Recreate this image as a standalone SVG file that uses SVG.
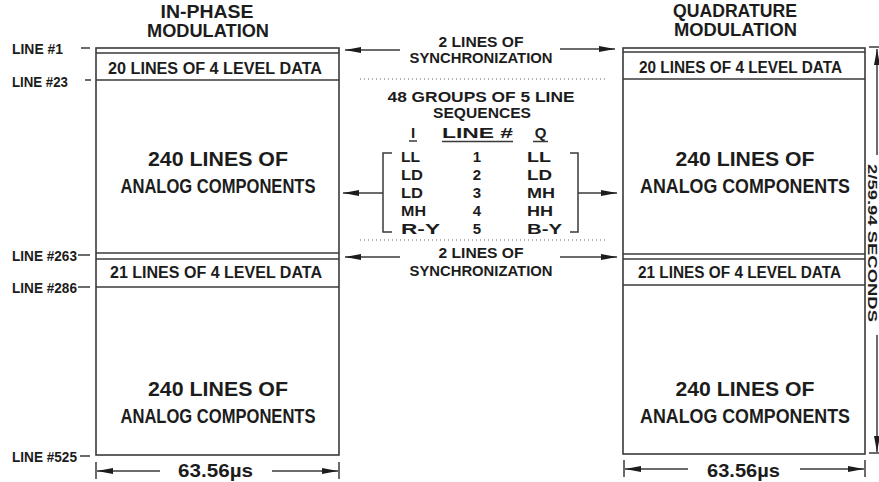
<svg xmlns="http://www.w3.org/2000/svg" width="879" height="482" viewBox="0 0 879 482">
<style>
.t{font-family:"Liberation Sans",Arial,sans-serif;font-weight:bold;fill:#1c1c1c}
.box{fill:#fff;stroke:#3a3a3a;stroke-width:1.6}
.ln{stroke:#3a3a3a;stroke-width:1.5;fill:none}
.dot{stroke:#666;stroke-width:1.2;stroke-dasharray:1 3;fill:none}
.ttl{font-size:18px}
.big{font-size:20px}
.row{font-size:16px}
.lbl{font-size:15px}
.mid{font-size:15px}
.dim{font-size:19px}
.vt{font-size:13px}
</style>
<defs>
<marker id="ah" markerWidth="16" markerHeight="8" refX="16" refY="4" orient="auto" markerUnits="userSpaceOnUse"><path d="M0,1 L16,4 L0,7 Z" fill="#1c1c1c"/></marker>
</defs>
<rect width="879" height="482" fill="#fff"/>

<g id="left-frame">
<text class="t ttl" x="207" y="18" text-anchor="middle" textLength="93" lengthAdjust="spacingAndGlyphs">IN-PHASE</text>
<text class="t ttl" x="208" y="37" text-anchor="middle" textLength="122" lengthAdjust="spacingAndGlyphs">MODULATION</text>
<rect class="box" x="96" y="48" width="243" height="407"/>
<line class="ln" x1="96" y1="53" x2="339" y2="53"/>
<line class="ln" x1="96" y1="80" x2="339" y2="80"/>
<line class="ln" x1="96" y1="253" x2="339" y2="253"/>
<line class="ln" x1="96" y1="259" x2="339" y2="259"/>
<line class="ln" x1="96" y1="287" x2="339" y2="287"/>
<text class="t row" x="215" y="74" text-anchor="middle" textLength="214" lengthAdjust="spacingAndGlyphs">20 LINES OF 4 LEVEL DATA</text>
<text class="t big" x="218" y="166" text-anchor="middle" textLength="140" lengthAdjust="spacingAndGlyphs">240 LINES OF</text>
<text class="t big" x="218" y="193" text-anchor="middle" textLength="195" lengthAdjust="spacingAndGlyphs">ANALOG COMPONENTS</text>
<text class="t row" x="216" y="278" text-anchor="middle" textLength="212" lengthAdjust="spacingAndGlyphs">21 LINES OF 4 LEVEL DATA</text>
<text class="t big" x="218" y="396" text-anchor="middle" textLength="140" lengthAdjust="spacingAndGlyphs">240 LINES OF</text>
<text class="t big" x="218" y="423" text-anchor="middle" textLength="195" lengthAdjust="spacingAndGlyphs">ANALOG COMPONENTS</text>
<text class="t lbl" x="12" y="54" textLength="51" lengthAdjust="spacingAndGlyphs">LINE #1</text>
<line class="ln" x1="81" y1="48" x2="90" y2="48"/>
<text class="t lbl" x="12" y="87" textLength="56" lengthAdjust="spacingAndGlyphs">LINE #23</text>
<line class="ln" x1="85" y1="80" x2="91" y2="80"/>
<text class="t lbl" x="12" y="261" textLength="65" lengthAdjust="spacingAndGlyphs">LINE #263</text>
<line class="ln" x1="78" y1="255" x2="90" y2="255"/>
<text class="t lbl" x="12" y="293" textLength="65" lengthAdjust="spacingAndGlyphs">LINE #286</text>
<line class="ln" x1="78" y1="287" x2="90" y2="287"/>
<text class="t lbl" x="12" y="462" textLength="65" lengthAdjust="spacingAndGlyphs">LINE #525</text>
<line class="ln" x1="80" y1="456" x2="90" y2="456"/>
<text class="t dim" x="215.5" y="477" text-anchor="middle" textLength="75" lengthAdjust="spacingAndGlyphs">63.56µs</text>
</g>

<g id="right-frame">
<text class="t ttl" x="735" y="17" text-anchor="middle" textLength="124" lengthAdjust="spacingAndGlyphs">QUADRATURE</text>
<text class="t ttl" x="735.5" y="36" text-anchor="middle" textLength="123" lengthAdjust="spacingAndGlyphs">MODULATION</text>
<rect class="box" x="623" y="48" width="242" height="406"/>
<line class="ln" x1="623" y1="52" x2="865" y2="52"/>
<line class="ln" x1="623" y1="79" x2="865" y2="79"/>
<line class="ln" x1="623" y1="254" x2="865" y2="254"/>
<line class="ln" x1="623" y1="259" x2="865" y2="259"/>
<line class="ln" x1="623" y1="285" x2="865" y2="285"/>
<text class="t row" x="740.5" y="73" text-anchor="middle" textLength="203" lengthAdjust="spacingAndGlyphs">20 LINES OF 4 LEVEL DATA</text>
<text class="t big" x="745" y="166" text-anchor="middle" textLength="139" lengthAdjust="spacingAndGlyphs">240 LINES OF</text>
<text class="t big" x="745" y="193" text-anchor="middle" textLength="210" lengthAdjust="spacingAndGlyphs">ANALOG COMPONENTS</text>
<text class="t row" x="739.5" y="278" text-anchor="middle" textLength="203" lengthAdjust="spacingAndGlyphs">21 LINES OF 4 LEVEL DATA</text>
<text class="t big" x="745" y="396" text-anchor="middle" textLength="139" lengthAdjust="spacingAndGlyphs">240 LINES OF</text>
<text class="t big" x="745" y="423" text-anchor="middle" textLength="210" lengthAdjust="spacingAndGlyphs">ANALOG COMPONENTS</text>
<text class="t dim" x="743.5" y="477" text-anchor="middle" textLength="73" lengthAdjust="spacingAndGlyphs">63.56µs</text>
<line class="ln" x1="869" y1="47" x2="879" y2="47"/>
<line class="ln" x1="869" y1="453" x2="879" y2="453"/>
<text class="t vt" transform="translate(868,243) rotate(90)" text-anchor="middle" textLength="158" lengthAdjust="spacingAndGlyphs">2/59.94 SECONDS</text>
</g>

<g id="middle-legend">
<text class="t mid" x="481" y="47" text-anchor="middle" textLength="85" lengthAdjust="spacingAndGlyphs">2 LINES OF</text>
<text class="t mid" x="481" y="63" text-anchor="middle" textLength="143" lengthAdjust="spacingAndGlyphs">SYNCHRONIZATION</text>
<line class="dot" x1="360" y1="79" x2="605" y2="79"/>
<text class="t mid" x="481" y="102" text-anchor="middle" textLength="187" lengthAdjust="spacingAndGlyphs">48 GROUPS OF 5 LINE</text>
<text class="t mid" x="482" y="118" text-anchor="middle" textLength="98" lengthAdjust="spacingAndGlyphs">SEQUENCES</text>
<text class="t mid" x="413" y="138" text-anchor="middle">I</text>
<text class="t mid" x="477.5" y="138" text-anchor="middle" textLength="71" lengthAdjust="spacingAndGlyphs">LINE #</text>
<text class="t mid" x="540.5" y="138" text-anchor="middle">Q</text>
<line class="ln" x1="409" y1="141" x2="417" y2="141" stroke-width="1.3"/>
<line class="ln" x1="442" y1="141.5" x2="513" y2="141.5" stroke-width="1.3"/>
<line class="ln" x1="533" y1="141.5" x2="548" y2="141.5" stroke-width="1.3"/>
<g class="t mid">
<text x="401" y="162" textLength="19" lengthAdjust="spacingAndGlyphs">LL</text>
<text x="401" y="180" textLength="22" lengthAdjust="spacingAndGlyphs">LD</text>
<text x="401" y="198" textLength="22" lengthAdjust="spacingAndGlyphs">LD</text>
<text x="401" y="216" textLength="25" lengthAdjust="spacingAndGlyphs">MH</text>
<text x="401" y="234" textLength="39" lengthAdjust="spacingAndGlyphs">R-Y</text>
<text x="477" y="162" text-anchor="middle">1</text>
<text x="477" y="180" text-anchor="middle">2</text>
<text x="477" y="198" text-anchor="middle">3</text>
<text x="477" y="216" text-anchor="middle">4</text>
<text x="477" y="234" text-anchor="middle">5</text>
<text x="527" y="162" textLength="24" lengthAdjust="spacingAndGlyphs">LL</text>
<text x="527" y="180" textLength="25" lengthAdjust="spacingAndGlyphs">LD</text>
<text x="527" y="198" textLength="28" lengthAdjust="spacingAndGlyphs">MH</text>
<text x="527" y="216" textLength="26" lengthAdjust="spacingAndGlyphs">HH</text>
<text x="527" y="234" textLength="35" lengthAdjust="spacingAndGlyphs">B-Y</text>
</g>
<path class="ln" d="M392,153 H383 V232 H392"/>
<path class="ln" d="M570,153 H578 V232 H570"/>
<line class="dot" x1="360" y1="240" x2="605" y2="240"/>
<text class="t mid" x="481" y="258" text-anchor="middle" textLength="85" lengthAdjust="spacingAndGlyphs">2 LINES OF</text>
<text class="t mid" x="481" y="276" text-anchor="middle" textLength="143" lengthAdjust="spacingAndGlyphs">SYNCHRONIZATION</text>
</g>

<g id="connectors">
<line class="ln" x1="400" y1="50" x2="345" y2="50" marker-end="url(#ah)"/>
<line class="ln" x1="560" y1="49" x2="615" y2="49" marker-end="url(#ah)"/>
<line class="ln" x1="383" y1="193" x2="343" y2="193" marker-end="url(#ah)"/>
<line class="ln" x1="578" y1="193" x2="617" y2="193" marker-end="url(#ah)"/>
<line class="ln" x1="400" y1="257" x2="345" y2="257" marker-end="url(#ah)"/>
<line class="ln" x1="560" y1="257" x2="617" y2="257" marker-end="url(#ah)"/>
<line class="ln" x1="96" y1="462" x2="96" y2="479"/>
<line class="ln" x1="339" y1="462" x2="339" y2="479"/>
<line class="ln" x1="160" y1="471" x2="97" y2="471" marker-end="url(#ah)"/>
<line class="ln" x1="272" y1="471" x2="338" y2="471" marker-end="url(#ah)"/>
<line class="ln" x1="624" y1="460" x2="624" y2="477"/>
<line class="ln" x1="865" y1="460" x2="865" y2="477"/>
<line class="ln" x1="688" y1="469" x2="625" y2="469" marker-end="url(#ah)"/>
<line class="ln" x1="800" y1="469" x2="864" y2="469" marker-end="url(#ah)"/>
<line class="ln" x1="877" y1="155" x2="877" y2="49" marker-end="url(#ah)"/>
<line class="ln" x1="877" y1="335" x2="877" y2="452" marker-end="url(#ah)"/>
</g>
</svg>
